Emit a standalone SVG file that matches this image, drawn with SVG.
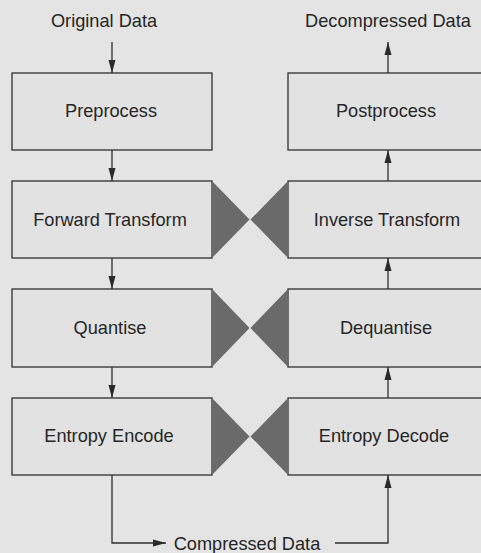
<svg xmlns="http://www.w3.org/2000/svg" width="481" height="553" viewBox="0 0 481 553">
<defs>
<marker id="ah" markerUnits="userSpaceOnUse" markerWidth="14" markerHeight="8" refX="13" refY="4" orient="auto">
<path d="M0,0.5 L13,4 L0,7.5 Z" fill="#2a2a2a"/>
</marker>
<style>
.box{fill:#e2e2e2;stroke:#2f2f2f;stroke-width:1.3}
.tri{fill:#6a6a6a}
.lbl{font-family:"Liberation Sans",Arial,sans-serif;font-size:18.2px;fill:#262626;text-anchor:middle}
.con{fill:none;stroke:#2f2f2f;stroke-width:1.3;marker-end:url(#ah)}
</style>
</defs>
<rect x="0" y="0" width="481" height="553" fill="#e4e4e4"/>
<text class="lbl" x="104" y="27">Original Data</text>
<text class="lbl" x="388" y="27">Decompressed Data</text>
<g id="preprocess"><rect class="box" x="12" y="73" width="200" height="77"/><text class="lbl" x="111" y="117">Preprocess</text></g>
<g id="forward"><rect class="box" x="12" y="181" width="200" height="77"/><text class="lbl" x="110" y="226">Forward Transform</text></g>
<g id="quantise"><rect class="box" x="12" y="289" width="200" height="78"/><text class="lbl" x="110" y="334">Quantise</text></g>
<g id="encode"><rect class="box" x="12" y="398" width="200" height="77"/><text class="lbl" x="109" y="442">Entropy Encode</text></g>
<g id="postprocess"><rect class="box" x="288" y="73" width="200" height="77"/><text class="lbl" x="386" y="117">Postprocess</text></g>
<g id="inverse"><rect class="box" x="288" y="181" width="200" height="77"/><text class="lbl" x="387" y="226">Inverse Transform</text></g>
<g id="dequantise"><rect class="box" x="288" y="289" width="200" height="78"/><text class="lbl" x="386" y="334">Dequantise</text></g>
<g id="decode"><rect class="box" x="288" y="398" width="200" height="77"/><text class="lbl" x="384" y="442">Entropy Decode</text></g>
<g id="ties">
<polygon class="tri" points="212.7,181.7 249.5,219.5 212.7,257.3"/>
<polygon class="tri" points="287.3,181.7 250.5,219.5 287.3,257.3"/>
<polygon class="tri" points="212.7,289.7 249.5,328 212.7,366.3"/>
<polygon class="tri" points="287.3,289.7 250.5,328 287.3,366.3"/>
<polygon class="tri" points="212.7,398.7 249.5,436.5 212.7,474.3"/>
<polygon class="tri" points="287.3,398.7 250.5,436.5 287.3,474.3"/>
</g>
<g id="compressed"><text class="lbl" x="247" y="550">Compressed Data</text></g>
<g id="connectors">
<path class="con" d="M112,42 V73"/>
<path class="con" d="M112,150 V181"/>
<path class="con" d="M112,258 V289"/>
<path class="con" d="M112,367 V398"/>
<path class="con" d="M112,475 V543 H166"/>
<path class="con" d="M335,543 H388 V475"/>
<path class="con" d="M388,398 V367"/>
<path class="con" d="M388,289 V258"/>
<path class="con" d="M388,181 V150"/>
<path class="con" d="M388,73 V42"/>
</g>
</svg>
